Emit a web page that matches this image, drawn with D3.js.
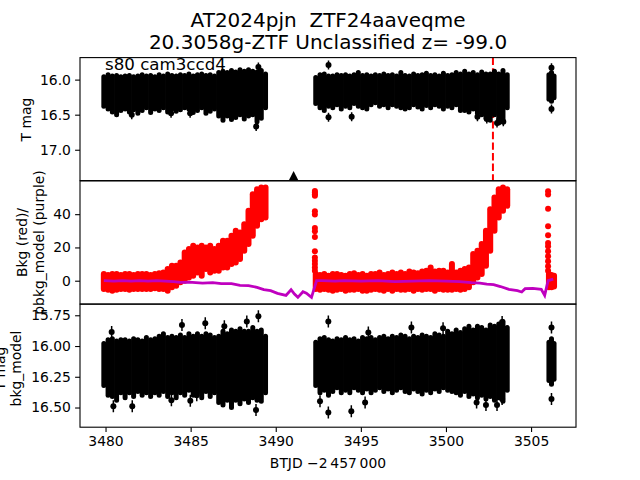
<!DOCTYPE html>
<html><head><meta charset="utf-8">
<script src="https://cdn.jsdelivr.net/npm/d3@7"></script>
<style>html,body{margin:0;padding:0;background:#fff}svg{display:block}text{font-family:"DejaVu Sans",sans-serif;fill:#000;white-space:pre}</style>
</head><body><div id="c"></div>
<script>
// ---- data ----
const titleLines = ["AT2024pjn  ZTF24aaveqme", "20.3058g-ZTF Unclassified z= -99.0"];
const sectorLabel = "s80 cam3ccd4";
const xTicks = [3480, 3485, 3490, 3495, 3500, 3505];
const magTicks = [16.0, 16.5, 17.0];
const bkgTicks = [0, 20, 40];
const detTicks = [15.75, 16.0, 16.25, 16.5];
const eventTime = 3502.76;
const triangleTime = 3491.05, triangleMag = 17.37;

const seg1Start = 3479.9, seg2Start = 3492.35, binDays = 0.25;
const seg3Times = [3506.05, 3506.2, 3506.35];

// T mag envelope
const magTop1 = [15.96,15.93,15.95,15.94,15.96,15.95,15.94,15.96,15.95,15.93,15.95,15.94,15.96,15.93,15.95,15.92,15.94,15.95,15.93,15.94,15.92,15.95,15.93,15.92,15.94,15.93,15.95,15.90,15.88,15.90,15.87,15.89,15.86,15.88,15.86,15.88,15.89,15.87,15.92];
const magBot1 = [16.38,16.42,16.46,16.50,16.44,16.42,16.46,16.43,16.48,16.44,16.40,16.47,16.42,16.44,16.40,16.46,16.42,16.45,16.43,16.40,16.42,16.47,16.44,16.40,16.48,16.45,16.42,16.52,16.58,16.52,16.57,16.54,16.50,16.56,16.52,16.50,16.60,16.55,16.40];
const magTop2 = [15.97,15.93,15.92,15.95,15.95,15.93,15.94,15.93,15.95,15.93,15.90,15.94,15.93,15.95,15.93,15.94,15.92,15.94,15.93,15.95,15.90,15.94,15.95,15.92,15.94,15.93,15.91,15.94,15.93,15.95,15.91,15.94,15.93,15.90,15.92,15.88,15.92,15.90,15.93,15.89,15.92,15.92,15.88,15.92,15.87,15.93];
const magBot2 = [16.34,16.40,16.44,16.38,16.40,16.36,16.42,16.38,16.40,16.34,16.38,16.40,16.42,16.36,16.33,16.38,16.36,16.40,16.36,16.38,16.40,16.42,16.40,16.36,16.39,16.42,16.37,16.40,16.36,16.38,16.42,16.38,16.40,16.36,16.44,16.44,16.46,16.42,16.48,16.50,16.55,16.58,16.50,16.62,16.58,16.40];
const magTop3 = [15.93,15.90,15.95];
const magBot3 = [16.28,16.31,16.26];
const magOutT = [3488.98,3488.85,3481.54,3483.85,3484.97,3493.1,3493.1,3494.46,3501.85,3502.4,3503,3503.37,3506.2,3506.2];
const magOutM = [15.82,16.67,16.5,16.48,16.48,15.79,16.535,16.53,16.53,16.56,16.62,16.6,16.42,15.83];

// background envelope
const bkgHi1 = [4,3.5,4,4,3.5,4,4,3.5,4,4,4,3.5,4,4.5,5,7,9,9,11,17,19,21,20,21,20,21,19,21,24,24,27,30,29,34,42,52,55,56,56];
const bkgLo1 = [-5,-5.5,-6,-5.5,-5,-5,-5.5,-5,-5,-5,-5,-5,-4.5,-5,-5,-6,-4,-3,-1,0,2,3,5,3,7,5,6,6,8,8,10,11,13,18,22,27,33,37,38];
const bkgHi2 = [4,3.5,4,3,4,4,3.5,3,4,4.5,3.5,4,3,4,4,5,3.5,4,5,4,5,4,5.5,5,4.5,5.5,6,8,5.5,6,6,5,10,5,6,7,8,16,18,22,30,43,50,55,56,55];
const bkgLo2 = [-5,-5.5,-5,-5.5,-6,-5.5,-5,-6,-5.5,-5.5,-5,-6,-6,-5.5,-5,-5.5,-6,-5,-6,-5,-5.5,-5.5,-5,-6,-5,-5.5,-5,-5,-6,-5,-5.5,-5.5,-5.5,-5,-5.5,-5,-4,-1,2,4,9,18,30,38,42,45];
const bkgHi3 = [4,3.5,3];
const bkgLo3 = [-4,-4,-3.5];
const bkgDotsT = [3492.3,3492.3,3492.3,3492.3,3492.3,3492.3,3492.3,3492.3,3492.3,3492.3,3492.3,3492.3,3492.3,3492.3,3492.3,3506,3506,3506,3506,3506,3506,3506,3506,3506,3506,3506,3506];
const bkgDotsV = [54,53,52,51,41.7,39.8,31.7,29.7,26.3,17.7,14,12,10,8,6,53.8,51.8,43.2,32.7,27.3,22.7,20.7,17.7,14.7,11.7,8.7,6];
const modelT = [3479.9,3480.5,3481,3481.5,3482,3482.5,3483,3483.5,3484,3484.4,3484.9,3485.3,3485.7,3486.3,3486.8,3487.4,3487.9,3488.4,3488.9,3489.3,3489.7,3490.1,3490.6,3490.9,3491.1,3491.3,3491.6,3491.8,3492.1,3492.4,3492.7,3493.5,3494,3495,3496,3497,3498,3499,3500,3500.8,3501.5,3502,3502.4,3502.8,3503.2,3503.7,3504.2,3504.45,3504.65,3505.1,3505.6,3505.8,3506,3506.3];
const modelV = [0,-0.3,0,-0.3,0,-0.3,0,-0.3,-0.5,-1,-0.8,-1.1,-1.4,-1.2,-1.7,-1.8,-2.8,-3,-4,-5.4,-6,-7.6,-8.8,-5.4,-8,-10,-6.6,-7.5,-10,0,0,-0.3,0,-0.3,0,-0.5,-0.3,0,-0.3,-0.5,-1.2,-1.5,-2,-2.3,-3.5,-5.2,-6,-6.8,-4.8,-4.6,-5.2,-8.8,0,1];

// T mag minus bkg_model envelope
const detTop1 = [15.98,15.95,15.94,15.96,15.95,15.95,15.96,15.94,15.95,15.96,15.93,15.95,15.94,15.92,15.90,15.93,15.92,15.93,15.91,15.93,15.90,15.92,15.90,15.92,15.90,15.91,15.93,15.92,15.88,15.90,15.87,15.88,15.86,15.88,15.88,15.85,15.88,15.87,15.92];
const detBot1 = [16.32,16.40,16.41,16.44,16.38,16.42,16.38,16.41,16.37,16.40,16.38,16.41,16.38,16.40,16.37,16.41,16.38,16.42,16.38,16.40,16.36,16.40,16.38,16.42,16.37,16.41,16.38,16.46,16.48,16.44,16.50,16.44,16.47,16.43,16.46,16.42,16.44,16.45,16.38];
const detTop2 = [15.97,15.94,15.93,15.95,15.96,15.94,15.95,15.93,15.95,15.94,15.96,15.93,15.94,15.93,15.95,15.93,15.92,15.94,15.92,15.93,15.91,15.92,15.94,15.92,15.93,15.91,15.92,15.93,15.90,15.91,15.92,15.88,15.90,15.87,15.89,15.86,15.84,15.87,15.84,15.85,15.87,15.83,15.84,15.82,15.80,15.85];
const detBot2 = [16.32,16.38,16.36,16.40,16.37,16.34,16.38,16.36,16.38,16.34,16.36,16.38,16.35,16.38,16.36,16.34,16.37,16.35,16.38,16.36,16.34,16.37,16.38,16.35,16.37,16.39,16.36,16.38,16.35,16.37,16.34,16.36,16.37,16.38,16.40,16.37,16.41,16.39,16.42,16.40,16.43,16.41,16.44,16.42,16.45,16.36];
const detTop3 = [15.97,15.94,15.98];
const detBot3 = [16.28,16.31,16.27];
const detOutT = [3480.36,3480.46,3481.57,3483.87,3484.49,3484.98,3485.36,3485.86,3486.98,3488.3,3488.98,3488.84,3493.09,3493.09,3494.44,3497.97,3495.44,3499.83,3502.35,3503,3503.3,3503.3,3506.2,3506.2,3492.6,3495.25,3501.8];
const detOutM = [15.885,16.49,16.49,16.44,15.83,16.445,16.40,15.815,15.84,15.80,15.757,16.52,15.8,16.54,16.53,15.85,15.89,15.855,16.48,16.48,16.43,15.805,15.85,16.43,16.45,16.46,16.46];

// ---- drawing ----
const W = 640, H = 480, L = 80, R = 576;
const xDomain = [3478.5, 3507.64];
const svg = d3.select("#c").append("svg").attr("width", W).attr("height", H);
const x = d3.scaleLinear().domain(xDomain).range([L, R]);
const panels = [
  {id:"a", top:57.6,  bot:180.6, dom:[15.686,17.44]},
  {id:"b", top:180.9, bot:304,   dom:[60,-14]},
  {id:"c", top:304.2, bot:427.2, dom:[15.66,16.66]}
];
panels.forEach(p => {
  p.y = d3.scaleLinear().domain(p.dom).range([p.top, p.bot]);
  svg.append("clipPath").attr("id","clip"+p.id).append("rect")
     .attr("x",L).attr("y",p.top).attr("width",R-L).attr("height",p.bot-p.top);
  p.g = svg.append("g").attr("clip-path",`url(#clip${p.id})`);
});
function bins(start, tops, bots){ return tops.map((t,i)=>({t:start+i*binDays, a:t, b:bots[i]})); }
function binsAt(times, tops, bots){ return tops.map((t,i)=>({t:times[i], a:t, b:bots[i]})); }
function band(p, data, color, w){
  p.g.append("g").selectAll("line").data(data).join("line")
   .attr("x1",d=>x(d.t)).attr("x2",d=>x(d.t))
   .attr("y1",d=>p.y(d.a)).attr("y2",d=>p.y(d.b))
   .attr("stroke",color).attr("stroke-width",w).attr("stroke-linecap","round");
}
function dots(p, ts, vs, color, r, err){
  const g = p.g.append("g");
  const d = ts.map((t,i)=>({t, v:vs[i]}));
  if (err) g.selectAll("line").data(d).join("line")
    .attr("x1",e=>x(e.t)).attr("x2",e=>x(e.t))
    .attr("y1",e=>p.y(e.v)-err).attr("y2",e=>p.y(e.v)+err)
    .attr("stroke",color).attr("stroke-width",1.5);
  g.selectAll("circle").data(d).join("circle")
    .attr("cx",e=>x(e.t)).attr("cy",e=>p.y(e.v)).attr("r",r).attr("fill",color);
}
// Panel A
const A = panels[0], B = panels[1], C = panels[2];
A.g.append("line").attr("x1",x(eventTime)).attr("x2",x(eventTime))
  .attr("y1",A.top).attr("y2",A.bot).attr("stroke","#ff0000").attr("stroke-width",2).attr("stroke-dasharray","7.4,3.2");
band(A, bins(seg1Start,magTop1,magBot1),"#000",5);
band(A, bins(seg2Start,magTop2,magBot2),"#000",5);
band(A, binsAt(seg3Times,magTop3,magBot3),"#000",5);
dots(A, magOutT, magOutM, "#000", 3, 4.5);
A.g.append("path").attr("d","M0,-4.8L4.6,4.4L-4.6,4.4Z").attr("transform",`translate(${x(triangleTime)},${A.y(triangleMag)})`).attr("fill","#000");
// Panel B
band(B, bins(seg1Start,bkgHi1,bkgLo1),"#ff0000",6);
band(B, bins(seg2Start,bkgHi2,bkgLo2),"#ff0000",6);
band(B, binsAt(seg3Times,bkgHi3,bkgLo3),"#ff0000",6);
dots(B, bkgDotsT, bkgDotsV, "#ff0000", 3, 0);
B.g.append("path").datum(modelT.map((t,i)=>[t,modelV[i]]))
  .attr("d", d3.line().x(d=>x(d[0])).y(d=>B.y(d[1])))
  .attr("fill","none").attr("stroke","#bf00bf").attr("stroke-width",2.8);
// Panel C
band(C, bins(seg1Start,detTop1,detBot1),"#000",5);
band(C, bins(seg2Start,detTop2,detBot2),"#000",5);
band(C, binsAt(seg3Times,detTop3,detBot3),"#000",5);
dots(C, detOutT, detOutM, "#000", 3, 6);

// axes and frames
function yAxis(p, ticks, fmt){
  const g = svg.append("g").attr("transform",`translate(${L},0)`)
    .call(d3.axisLeft(p.y).tickValues(ticks).tickFormat(fmt).tickSize(4.9).tickPadding(4.2));
  g.select(".domain").remove();
  g.selectAll("line").attr("stroke","#000").attr("stroke-width",1.1);
  g.selectAll("text").attr("font-size","13.9px");
}
yAxis(A, magTicks, d3.format(".1f"));
yAxis(B, bkgTicks, d3.format("d"));
yAxis(C, detTicks, d3.format(".2f"));
const xg = svg.append("g").attr("transform",`translate(0,${C.bot})`)
  .call(d3.axisBottom(x).tickValues(xTicks).tickFormat(d3.format("d")).tickSize(4.9).tickPadding(4.2));
xg.select(".domain").remove();
xg.selectAll("line").attr("stroke","#000").attr("stroke-width",1.1);
xg.selectAll("text").attr("font-size","13.9px");
panels.forEach(p => svg.append("rect").attr("x",L).attr("y",p.top).attr("width",R-L).attr("height",p.bot-p.top)
  .attr("fill","none").attr("stroke","#000").attr("stroke-width",1.1));

// text
svg.selectAll("text.t").data(titleLines).join("text").attr("class","t")
  .attr("x",328).attr("y",(d,i)=>26.5+i*22).attr("text-anchor","middle").attr("font-size","20px").text(d=>d);
svg.append("text").attr("x",105).attr("y",70).attr("font-size","16.67px").text(sectorLabel);
svg.append("text").attr("x",328).attr("y",468).attr("text-anchor","middle").attr("font-size","13.9px").text("BTJD \u22122\u2009457\u2009000");
function rot(txt, xp, yp){
  svg.append("text").attr("transform",`translate(${xp},${yp}) rotate(-90)`).attr("text-anchor","middle").attr("font-size","13.9px").text(txt);
}
rot("T mag", 30.5, 119.5);
rot("Bkg (red)/", 27, 242.5);
rot("pbkg_model (purple)", 43.5, 242.5);
rot("T mag", 4.5, 368.5);
rot("bkg_model", 21, 368.5);
</script></body></html>
